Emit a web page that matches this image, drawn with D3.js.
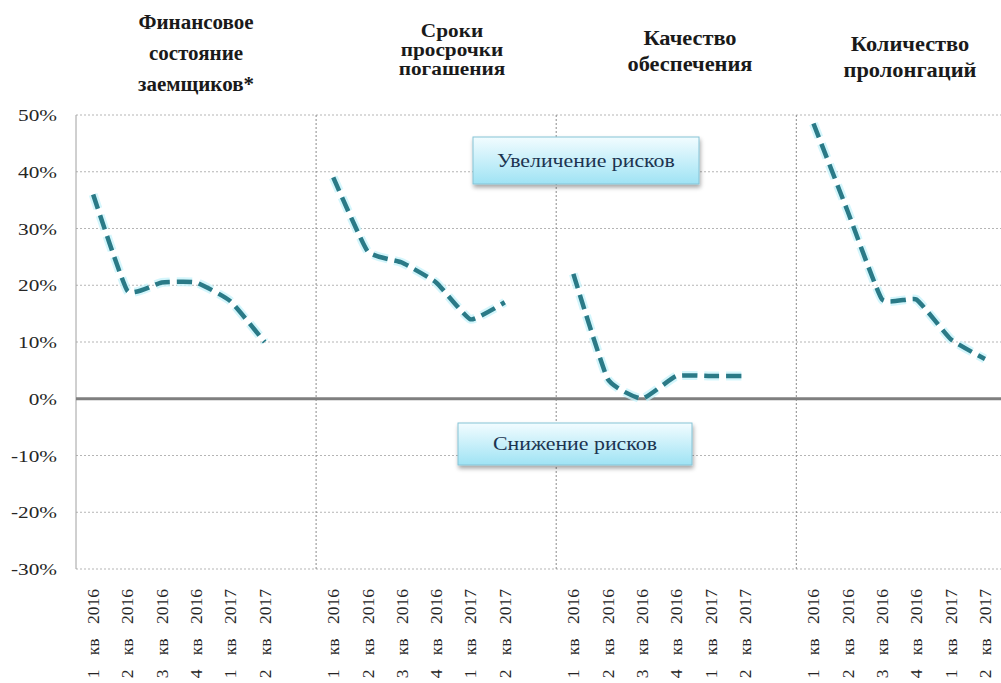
<!DOCTYPE html>
<html><head><meta charset="utf-8">
<script src="https://cdn.jsdelivr.net/npm/d3@7"></script>
<style>
html,body{margin:0;padding:0;background:#fff;overflow:hidden}
svg{display:block}
</style></head>
<body>
<svg id="chart" width="1001" height="683"></svg>
<script>
// ---- data ----
const quarters = ["1 кв 2016","2 кв 2016","3 кв 2016","4 кв 2016","1 кв 2017","2 кв 2017"];
const groupTitles = [
  ["Финансовое","состояние","заемщиков*"],
  ["Сроки","просрочки","погашения"],
  ["Качество","обеспечения"],
  ["Количество","пролонгаций"]
];
const finState   = [36, 19, 20.5, 20.5, 17.2, 10];
const overdue    = [39, 26, 24, 20.5, 14, 17];
const collateral = [22, 3.5, 0, 4, 4, 4];
const prolong    = [48.5, 33, 17.5, 17.5, 10.5, 7];
const seriesList = [finState, overdue, collateral, prolong];
const yTicks = [50, 40, 30, 20, 10, 0, -10, -20, -30];
const upLabel = "Увеличение рисков";
const downLabel = "Снижение рисков";

(function () {
const FONT = "Liberation Serif";
// ---- layout ----
const svg = d3.select("#chart");
const pLeft = 76, slot = 34.3, pTop = 115, pBottom = 569;
const keys = [];
seriesList.forEach((s, g) => { quarters.forEach((q, i) => keys.push(g + "|" + i)); keys.push(g + "|blank"); });
const x = d3.scaleBand().domain(keys).range([pLeft, pLeft + slot * keys.length]).padding(0);
const y = d3.scaleLinear().domain([-30, 50]).range([pBottom, pTop]);
const xr = x.range()[1];

// gridlines
svg.append("g").selectAll("line").data(yTicks.filter(t => t !== 0)).join("line")
  .attr("x1", pLeft).attr("x2", xr).attr("y1", d => y(d)).attr("y2", d => y(d))
  .attr("stroke", "#b5b5b5").attr("stroke-width", 1).attr("stroke-dasharray", "2,2");

// group separators
const seps = [1, 2, 3].map(g => x(g + "|0"));
svg.append("g").selectAll("line").data(seps).join("line")
  .attr("x1", d => d).attr("x2", d => d).attr("y1", pTop).attr("y2", pBottom)
  .attr("stroke", "#8a8a8a").attr("stroke-width", 1).attr("stroke-dasharray", "2,2");

// left axis
svg.append("line").attr("x1", pLeft).attr("x2", pLeft).attr("y1", pTop).attr("y2", pBottom)
  .attr("stroke", "#a0a0a0").attr("stroke-width", 1);

// zero line
svg.append("line").attr("x1", pLeft).attr("x2", xr).attr("y1", y(0)).attr("y2", y(0))
  .attr("stroke", "#7f7f7f").attr("stroke-width", 3);

// y tick labels
svg.append("g").selectAll("text").data(yTicks).join("text")
  .attr("font-family", FONT)
  .attr("transform", d => `translate(57,${y(d) + 6}) scale(1.25,1)`)
  .attr("text-anchor", "end")
  .attr("font-size", 17).attr("fill", "#262626")
  .text(d => d + "%");

// x labels
const xl = svg.append("g");
seriesList.forEach((s, g) => {
  quarters.forEach((q, i) => {
    const cx = x(g + "|" + i) + x.bandwidth() / 2;
    xl.append("text")
      .attr("font-family", FONT)
      .attr("transform", `translate(${cx + 6},589) rotate(-90)`)
      .attr("text-anchor", "end")
      .attr("font-size", 17.5).attr("fill", "#262626")
      .style("word-spacing", "10px")
      .text(q);
  });
});

// titles
const titleCfg = [
  {cx: 196, ys: [29, 60, 91], fs: 20, sx: 1.05},
  {cx: 452, ys: [37, 56, 75], fs: 19, sx: 1.12},
  {cx: 690, ys: [45, 71], fs: 20, sx: 1.12},
  {cx: 910, ys: [51, 77], fs: 20, sx: 1.12}
];
groupTitles.forEach((lines, g) => {
  lines.forEach((ln, j) => {
    svg.append("text")
      .attr("font-family", FONT)
      .attr("transform", `translate(${titleCfg[g].cx},${titleCfg[g].ys[j]}) scale(${titleCfg[g].sx},1)`)
      .attr("text-anchor", "middle").attr("font-weight", "bold")
      .attr("font-size", titleCfg[g].fs).attr("fill", "#1a1a1a")
      .text(ln);
  });
});

// lines
const line = d3.line()
  .x(d => d.x).y(d => y(d.v))
  .curve(d3.curveCardinal.tension(0.6));
seriesList.forEach((s, g) => {
  const pts = s.map((v, i) => ({x: x(g + "|" + i) + x.bandwidth() / 2, v}));
  svg.append("path").attr("d", line(pts)).attr("fill", "none")
    .attr("stroke", "#c9f4fb").attr("stroke-width", 9).attr("stroke-opacity", 0.8)
    .attr("stroke-dasharray", "15,7");
  svg.append("path").attr("d", line(pts)).attr("fill", "none")
    .attr("stroke", "#2a7a87").attr("stroke-width", 4.5)
    .attr("stroke-dasharray", "15,7");
});

// boxes
const defs = svg.append("defs");
const grad = defs.append("linearGradient").attr("id", "bg").attr("x1", 0).attr("y1", 0).attr("x2", 0).attr("y2", 1);
grad.append("stop").attr("offset", "0%").attr("stop-color", "#f2fcff");
grad.append("stop").attr("offset", "100%").attr("stop-color", "#9fe3f4");
const sh = defs.append("filter").attr("id", "sh").attr("x", "-10%").attr("y", "-20%").attr("width", "130%").attr("height", "160%");
sh.append("feDropShadow").attr("dx", 1).attr("dy", 3).attr("stdDeviation", 2).attr("flood-color", "#000").attr("flood-opacity", 0.35);

function box(x0, y0, w, h, label) {
  svg.append("rect").attr("x", x0).attr("y", y0).attr("width", w).attr("height", h)
    .attr("fill", "url(#bg)").attr("stroke", "#86c3d6").attr("stroke-width", 1).attr("filter", "url(#sh)");
  svg.append("text")
    .attr("font-family", FONT)
    .attr("transform", `translate(${x0 + w / 2},${y0 + h / 2 + 6}) scale(1.15,1)`)
    .attr("text-anchor", "middle").attr("font-size", 19).attr("fill", "#1c3450")
    .text(label);
}
box(473, 137, 226, 47, upLabel);
box(458, 423, 234, 42, downLabel);
})();
</script>
</body></html>
